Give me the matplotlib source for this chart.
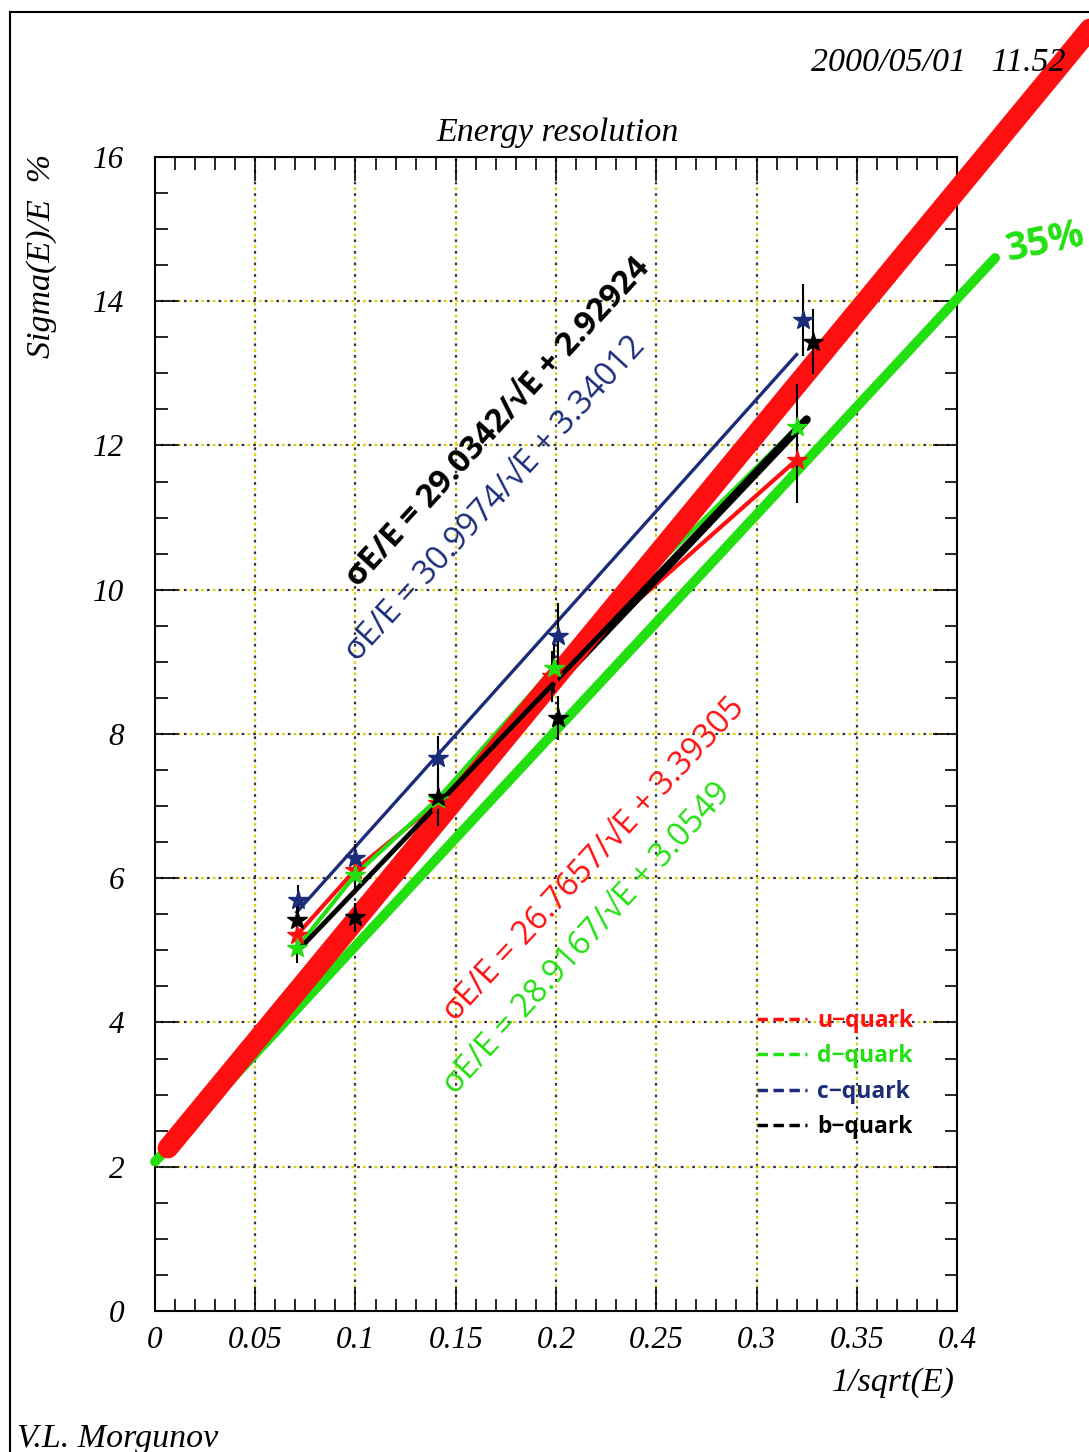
import matplotlib
matplotlib.use("Agg")
import matplotlib.pyplot as plt
from matplotlib.lines import Line2D

# measured points, sigma(E)/E in % vs 1/sqrt(E)
u_x = [0.0707, 0.100, 0.141, 0.198, 0.320]
u_y = [5.21, 6.12, 7.05, 8.80, 11.80]
u_err = [0.20, 0.20, 0.30, 0.35, 0.60]

d_x = [0.0707, 0.100, 0.141, 0.199, 0.320]
d_y = [5.03, 6.05, 7.10, 8.92, 12.25]
d_err = [0.20, 0.20, 0.30, 0.35, 0.60]

c_x = [0.0715, 0.100, 0.141, 0.201, 0.323]
c_y = [5.70, 6.28, 7.67, 9.36, 13.74]
c_err = [0.20, 0.20, 0.30, 0.45, 0.50]

b_x = [0.0707, 0.100, 0.141, 0.201, 0.328]
b_y = [5.42, 5.46, 7.13, 8.22, 13.44]
b_err = [0.30, 0.20, 0.40, 0.30, 0.45]

# fit lines (end points)
c_fit_x = [0.0707, 0.320]
c_fit_y = [5.53, 13.26]
b_fit_x = [0.0707, 0.325]
b_fit_y = [4.98, 12.37]

# hand drawn strokes
red_x = [0.0065, 0.47]
red_y = [2.26, 17.90]
green_x = [0.0, 0.419]
green_y = [2.07, 14.60]
black_x = [0.0175, 0.19, 0.325]
black_y = [2.50, 8.40, 12.36]

xtick_vals = [0, 0.05, 0.1, 0.15, 0.2, 0.25, 0.3, 0.35, 0.4]
xtick_labels = ["0", "0.05", "0.1", "0.15", "0.2", "0.25", "0.3", "0.35", "0.4"]
ytick_vals = [0, 2, 4, 6, 8, 10, 12, 14, 16]

RED = "#ff1010"
GREEN = "#22e010"
BLUE = "#1c2c7a"
serif = dict(family="Liberation Serif", style="italic")
sans = ["Open Sans", "DejaVu Sans"]

fig = plt.figure(figsize=(10.89, 14.52), dpi=100)
ax = fig.add_axes([0.1423, 0.0971, 0.7365, 0.7948])
ax.set_xlim(0, 0.4)
ax.set_ylim(0, 16)

# dotted grid, yellow and black dots alternating
for gx in xtick_vals[1:-1]:
    ax.axvline(gx, color="#e0d000", lw=1.6, ls=(0, (1.2, 4)), zorder=1)
    ax.axvline(gx, color="#333333", lw=1.6, ls=(2.6, (1.2, 4)), zorder=1)
for gy in ytick_vals[1:-1]:
    ax.axhline(gy, color="#e0d000", lw=1.6, ls=(0, (1.2, 4)), zorder=1)
    ax.axhline(gy, color="#333333", lw=1.6, ls=(2.6, (1.2, 4)), zorder=1)

# data lines
ax.plot(c_fit_x, c_fit_y, color=BLUE, lw=2.4, zorder=3)
ax.plot(u_x, u_y, color=RED, lw=3, zorder=3)
ax.plot(d_x, d_y, color=GREEN, lw=3, zorder=3)
ax.plot(black_x, black_y, color="black", lw=6, solid_capstyle="round", zorder=4)
ax.plot(green_x, green_y, color=GREEN, lw=7, solid_capstyle="round", zorder=4.5, clip_on=False)
ax.plot(red_x, red_y, color=RED, lw=15, solid_capstyle="round", zorder=5, clip_on=False)
ax.plot(b_fit_x, b_fit_y, color="black", lw=3.5, zorder=6)

for xs, ys, es, col in [(u_x, u_y, u_err, RED), (d_x, d_y, d_err, GREEN),
                        (c_x, c_y, c_err, BLUE), (b_x, b_y, b_err, "black")]:
    ax.errorbar(xs, ys, yerr=es, fmt="none", ecolor="black", elinewidth=1.5, zorder=7)
    ax.plot(xs, ys, ls="none", marker="*", ms=15, color=col, mec=col, zorder=8)

# fit formulas
ax.text(0.104, 9.95, "σE/E = 29.0342/√E + 2.92924", rotation=47.5, rotation_mode="anchor",
        ha="left", va="bottom", fontsize=23.5, fontweight="bold", color="black", family=sans, zorder=9)
ax.text(0.104, 8.92, "σE/E = 30.9974/√E + 3.34012", rotation=47.5, rotation_mode="anchor",
        ha="left", va="bottom", fontsize=23.5, color=BLUE, family=sans, zorder=9)
ax.text(0.153, 3.93, "σE/E = 26.7657/√E + 3.39305", rotation=47.2, rotation_mode="anchor",
        ha="left", va="bottom", fontsize=23.5, color=RED, family=sans, zorder=9)
ax.text(0.153, 2.91, "σE/E = 28.9167/√E + 3.0549", rotation=47.5, rotation_mode="anchor",
        ha="left", va="bottom", fontsize=23.5, color=GREEN, family=sans, zorder=9)

# legend
handles = [Line2D([], [], color=c, lw=2.5, ls=(0, (3, 1.6))) for c in (RED, GREEN, BLUE, "black")]
leg = ax.legend(handles, ["u−quark", "d−quark", "c−quark", "b−quark"], loc="upper left",
                bbox_to_anchor=(0.750, 0.262), frameon=False, handlelength=2.2,
                handletextpad=0.45, labelspacing=0.5, borderpad=0, borderaxespad=0,
                prop=dict(family=sans, size=16.5, weight="bold"), labelcolor="linecolor")

# axes and ticks
ax.set_xticks(xtick_vals)
ax.set_xticklabels(xtick_labels)
ax.set_yticks(ytick_vals)
ax.set_xticks([i * 0.01 for i in range(41)], minor=True)
ax.set_yticks([i * 0.5 for i in range(33)], minor=True)
ax.tick_params(which="both", direction="in", top=True, right=True, width=1.2, colors="black")
ax.tick_params(which="major", length=17)
ax.tick_params(which="minor", length=9)
ax.tick_params(axis="x", which="major", pad=11)
ax.tick_params(axis="y", which="major", pad=22)
for lab in ax.get_xticklabels() + ax.get_yticklabels():
    lab.set_fontfamily("Liberation Serif")
    lab.set_fontstyle("italic")
    lab.set_fontsize(22.5)

for sp in ax.spines.values():
    sp.set_linewidth(1.5)

fig.text(0.512, 0.9085, "Energy resolution", ha="center", va="center", fontsize=24.5, **serif)
fig.text(0.978, 0.957, "2000/05/01   11.52", ha="right", va="center", fontsize=24.5, **serif)
fig.text(0.038, 0.824, "Sigma(E)/E  %", rotation=90, ha="center", va="center", fontsize=24.5, **serif)
fig.text(0.877, 0.0475, "1/sqrt(E)", ha="right", va="center", fontsize=24.5, **serif)
fig.text(0.016, 0.009, "V.L. Morgunov", ha="left", va="center", fontsize=24.5, **serif)
fig.text(0.920, 0.833, "35%", rotation=12, ha="left", va="center", fontsize=28,
         fontweight="bold", color=GREEN, family=sans)

# page frame
fig.add_artist(Line2D([0.0092, 0.0092], [0.0, 0.9917], color="black", lw=1.5))
fig.add_artist(Line2D([0.0092, 1.0], [0.9917, 0.9917], color="black", lw=1.5))

fig.savefig("out.png", dpi=100)
